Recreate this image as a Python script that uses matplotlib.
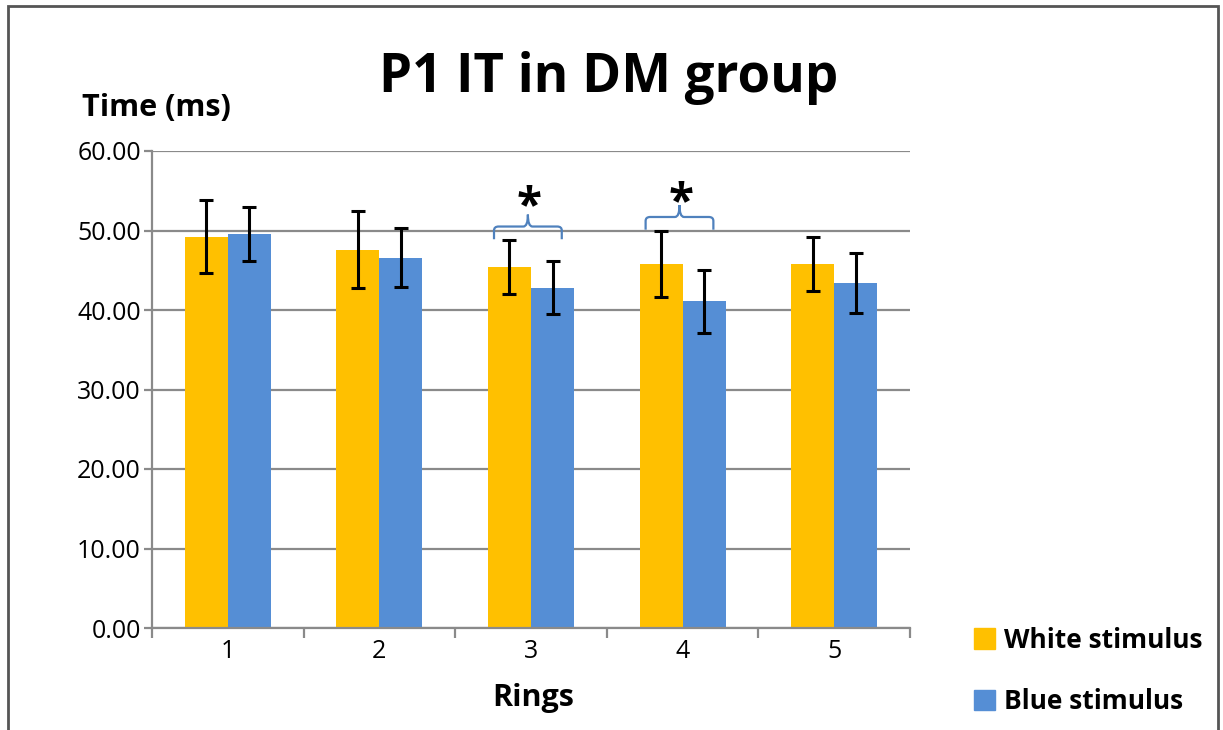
import numpy as np
import matplotlib
matplotlib.use("Agg")
import matplotlib.pyplot as plt
from matplotlib.path import Path
from matplotlib.patches import PathPatch, Rectangle, Patch
from matplotlib.ticker import FormatStrFormatter

# mean latency per ring, with error bars
rings = ['1', '2', '3', '4', '5']
white_mean = [49.2, 47.6, 45.4, 45.8, 45.8]
white_err = [4.6, 4.85, 3.45, 4.2, 3.4]
blue_mean = [49.6, 46.6, 42.8, 41.1, 43.4]
blue_err = [3.4, 3.7, 3.35, 3.95, 3.8]

# significant rings: brace height and star height
sig_rings = [3, 4]
brace_y = [50.5, 51.7]
star_y = [52.9, 53.4]

plt.rcParams['font.family'] = ['Open Sans', 'DejaVu Sans']

GRID = '#8a8a8a'
YELLOW = '#FFC000'
BLUE = '#558ED5'


def draw_brace(ax, xl, xr, y, drop=1.6, rise=1.5, r=0.03, ry=0.5):
    xm = (xl + xr) / 2
    verts, codes = [], []
    for xe, sgn in [(xl, 1), (xr, -1)]:
        verts += [(xe, y - drop), (xe, y - ry), (xe, y), (xe + sgn * r, y),
                  (xm - sgn * r, y), (xm, y), (xm, y + rise)]
        codes += [Path.MOVETO, Path.LINETO, Path.CURVE3, Path.CURVE3,
                  Path.LINETO, Path.CURVE3, Path.CURVE3]
    ax.add_patch(PathPatch(Path(verts, codes), fill=False, edgecolor='#4F81BD',
                           lw=1.6, zorder=4))


fig = plt.figure(figsize=(12.23, 7.30), dpi=100)
ax = fig.add_axes([152 / 1223, 1 - 628 / 730, 758 / 1223, 477 / 730])

x = np.arange(1, len(rings) + 1)
w = 0.284
ax.bar(x - w / 2, white_mean, w, color=YELLOW, zorder=2)
ax.bar(x + w / 2, blue_mean, w, color=BLUE, zorder=2)
ax.errorbar(x - w / 2, white_mean, yerr=white_err, fmt='none', ecolor='black',
            elinewidth=2.2, capsize=5, capthick=2.2, zorder=3)
ax.errorbar(x + w / 2, blue_mean, yerr=blue_err, fmt='none', ecolor='black',
            elinewidth=2.2, capsize=5, capthick=2.2, zorder=3)

for ring, by, sy in zip(sig_rings, brace_y, star_y):
    draw_brace(ax, ring - 0.244, ring + 0.203, by)
    ax.text(ring - 0.01, sy, '*', ha='center', va='center', fontsize=33,
            fontweight='bold', zorder=4)

ax.set_xlim(0.5, len(rings) + 0.5)
ax.set_ylim(0, 60)
ax.set_yticks(np.arange(0, 61, 10))
ax.yaxis.set_major_formatter(FormatStrFormatter('%.2f'))
ax.grid(axis='y', color=GRID, lw=1.6, zorder=0)
ax.set_axisbelow(True)

for s in ['top', 'right']:
    ax.spines[s].set_visible(False)
for s in ['left', 'bottom']:
    ax.spines[s].set_color(GRID)
    ax.spines[s].set_linewidth(1.6)

# category boundaries get the tick marks, labels sit at the centres
ax.set_xticks(np.arange(0.5, len(rings) + 1, 1))
ax.set_xticklabels([])
ax.set_xticks(x, minor=True)
ax.set_xticklabels(rings, minor=True)
ax.tick_params(axis='x', which='major', length=7, width=1.6, color=GRID)
ax.tick_params(axis='x', which='minor', length=0, pad=8, labelsize=18)
ax.tick_params(axis='y', length=6, width=1.6, color=GRID, pad=2, labelsize=18)

fig.text(0.498, 1 - 78 / 730, 'P1 IT in DM group', ha='center', va='center',
         fontsize=38, fontweight='bold')
fig.text(82 / 1223, 1 - 116 / 730, 'Time (ms)', ha='left', va='baseline',
         fontsize=22, fontweight='bold')
fig.text(533 / 1223, 1 - 698 / 730, 'Rings', ha='center', va='center',
         fontsize=22, fontweight='bold')

handles = [Patch(color=YELLOW, label='White stimulus'),
           Patch(color=BLUE, label='Blue stimulus')]
fig.legend(handles=handles, loc='upper left',
           bbox_to_anchor=(950 / 1223, 1 - 603 / 730), frameon=False,
           prop={'weight': 'bold', 'size': 19}, handlelength=0.8,
           handleheight=0.8, handletextpad=0.35, labelspacing=1.3)

# outer frame
fig.add_artist(Rectangle((8 / 1223, -0.05), 1210 / 1223, 1.05 - 6 / 730,
                         transform=fig.transFigure, fill=False,
                         edgecolor='#555555', lw=2))

fig.savefig('out.png', dpi=100)
